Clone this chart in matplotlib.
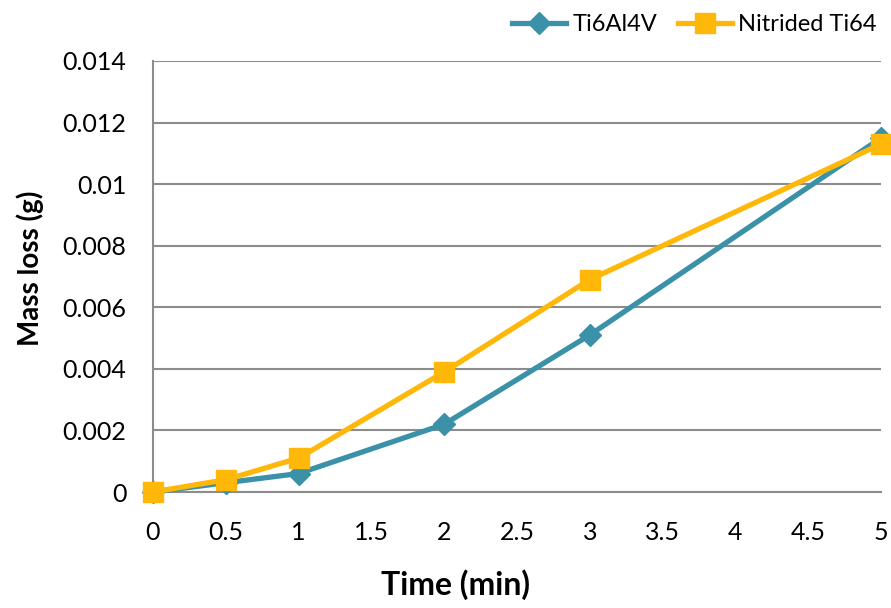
import matplotlib
matplotlib.use("Agg")
import matplotlib.pyplot as plt

time_min = [0, 0.5, 1, 2, 3, 5]
ti6al4v = [0, 0.0003, 0.0006, 0.0022, 0.0051, 0.0115]
nitrided = [0, 0.0004, 0.0011, 0.0039, 0.0069, 0.0113]
xticks = [0, 0.5, 1, 1.5, 2, 2.5, 3, 3.5, 4, 4.5, 5]
yticks = [0, 0.002, 0.004, 0.006, 0.008, 0.01, 0.012, 0.014]
ylabels = ["0", "0.002", "0.004", "0.006", "0.008", "0.01", "0.012", "0.014"]

plt.rcParams["font.family"] = ["Lato", "DejaVu Sans"]
fig = plt.figure(figsize=(8.91, 6.08), dpi=100)
ax = fig.add_axes([153/891, 1-492/608, (881-153)/891, (492-61)/608])

ax.plot(time_min, ti6al4v, color="#3A91A8", lw=3.8, marker="D", ms=11, label="Ti6Al4V", clip_on=False, zorder=3)
ax.plot(time_min, nitrided, color="#FFB80A", lw=3.8, marker="s", ms=14, label="Nitrided Ti64", clip_on=False, zorder=4)

ax.set_xlim(0, 5); ax.set_ylim(0, 0.014)
ax.set_xticks(xticks); ax.set_xticklabels([f"{v:g}" for v in xticks])
ax.set_yticks(yticks); ax.set_yticklabels(ylabels)
ax.grid(axis="y", color="#8c8c8c", lw=1.5)
ax.set_axisbelow(True)
for s in ["top", "right"]:
    ax.spines[s].set_visible(False)
for s in ["left", "bottom"]:
    ax.spines[s].set_color("#8c8c8c"); ax.spines[s].set_linewidth(1.5)
ax.tick_params(length=0, labelsize=18)
ax.tick_params(axis="x", pad=21)
ax.tick_params(axis="y", pad=19)
ax.set_xlabel("Time (min)", fontsize=23, weight="bold")
ax.set_ylabel("Mass loss (g)", fontsize=20, weight="bold")
# label positions as in the source chart (not centred on the plot area)
ax.xaxis.set_label_coords(0.416, -0.18)
ax.yaxis.set_label_coords(-0.15, 0.52)

fig.legend(loc="upper right", bbox_to_anchor=(1.0, 1.0), ncol=2, frameon=False, fontsize=17,
           handlelength=2.3, columnspacing=0.9, handletextpad=0.25, borderaxespad=0.2)
fig.savefig("out.png", dpi=100)
